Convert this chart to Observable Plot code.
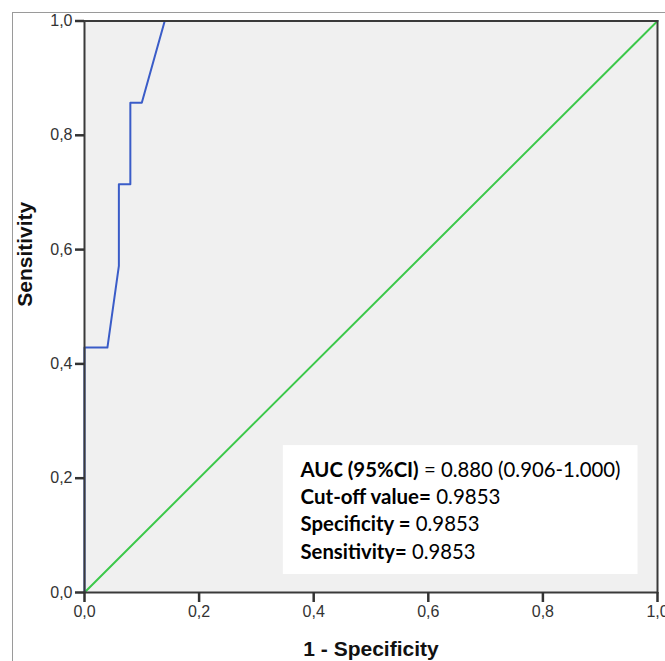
<!DOCTYPE html>
<html>
<head>
<meta charset="utf-8">
<script src="https://cdn.jsdelivr.net/npm/d3@7"></script>
<script src="https://cdn.jsdelivr.net/npm/@observablehq/plot@0.6"></script>
<style>
  html, body { margin: 0; padding: 0; background: #fff; }
  #wrap { position: relative; width: 665px; height: 661px; }
  #outer { position: absolute; left: 12px; top: 12px; width: 653px; height: 649px;
           border-top: 1px solid #9a9a9a; border-left: 1px solid #9a9a9a; pointer-events: none; }
</style>
</head>
<body>
<div id="wrap"><div id="outer"></div></div>
<script>
// ROC curve points (1 - specificity, sensitivity)
const rocFpr = [0, 0, 0.04, 0.06, 0.06, 0.08, 0.08, 0.10, 0.14, 1.0];
const rocTpr = [0, 0.4286, 0.4286, 0.5714, 0.7143, 0.7143, 0.8571, 0.8571, 1.0, 1.0];
// Reference diagonal
const refX = [0, 1];
const refY = [0, 1];
// Tick values
const xTicks = [0, 0.2, 0.4, 0.6, 0.8, 1.0];
const yTicks = [0, 0.2, 0.4, 0.6, 0.8, 1.0];
// Annotation text
const statBold = ["AUC (95%CI)", "Cut-off value=", "Specificity =", "Sensitivity="];
const statRest = [" = 0.880 (0.906-1.000)", " 0.9853", " 0.9853", " 0.9853"];
const statY = [0.2016, 0.1550, 0.1083, 0.0592];
const statWidth = [320, 200, 179, 175];
const boxX1 = 0.347, boxX2 = 0.966, boxY1 = 0.0315, boxY2 = 0.257, textX = 0.377;

const roc = rocFpr.map((x, i) => ({x, y: rocTpr[i]}));
const diag = refX.map((x, i) => ({x, y: refY[i]}));
const stats = statBold.map((b, i) => ({bold: b, rest: statRest[i], y: statY[i], w: statWidth[i]}));
const fmt = t => t.toFixed(1).replace(".", ",");

const chart = Plot.plot({
  width: 665,
  height: 661,
  marginLeft: 84,
  marginRight: 8,
  marginTop: 20.5,
  marginBottom: 69,
  style: {fontFamily: "Liberation Sans, Arial, sans-serif", background: "transparent"},
  x: {domain: [0, 1]},
  y: {domain: [0, 1]},
  marks: [
    Plot.frame({fill: "#f0f0f0", stroke: null}),
    Plot.line(diag, {x: "x", y: "y", stroke: "#3cc84a", strokeWidth: 2}),
    Plot.rect([{x1: boxX1, x2: boxX2, y1: boxY1, y2: boxY2}], {x1: "x1", x2: "x2", y1: "y1", y2: "y2", fill: "white"}),
    Plot.text(stats, {x: textX, y: "y", text: d => d.bold + d.rest, textAnchor: "start", lineAnchor: "bottom",
      fontSize: 21, fontFamily: "Lato, sans-serif", fill: "#000", className: "stats"}),
    Plot.line(roc, {x: "x", y: "y", stroke: "#3a5cc8", strokeWidth: 2, curve: "linear"}),
    Plot.frame({stroke: "#3a3a3a", strokeWidth: 2}),
    Plot.axisX({ticks: xTicks, tickFormat: fmt, tickSize: 10, tickPadding: 3, strokeWidth: 2.5, stroke: "#333",
      fontSize: 16, fill: "#333", label: null}),
    Plot.axisY({ticks: yTicks, tickFormat: fmt, tickSize: 9, tickPadding: 3, strokeWidth: 2.5, stroke: "#333",
      fontSize: 16, fill: "#333", label: null}),
    Plot.text(["1 - Specificity"], {frameAnchor: "bottom", dy: 63, lineAnchor: "bottom", fontSize: 21,
      fontWeight: "bold", fill: "#111"}),
    Plot.text(["Sensitivity"], {frameAnchor: "left", dx: -59, rotate: -90, fontSize: 21,
      fontWeight: "bold", fill: "#111"})
  ]
});

// mixed bold / regular runs in the annotation
d3.select(chart).selectAll("g.stats text").each(function (i) {
  const d = stats[i];
  const t = d3.select(this);
  t.text(null);
  t.append("tspan").attr("font-weight", "bold").text(d.bold);
  t.append("tspan").text(d.rest);
  t.attr("textLength", d.w).attr("lengthAdjust", "spacingAndGlyphs").style("white-space", "pre");
});

document.getElementById("wrap").prepend(chart);
</script>
</body>
</html>
